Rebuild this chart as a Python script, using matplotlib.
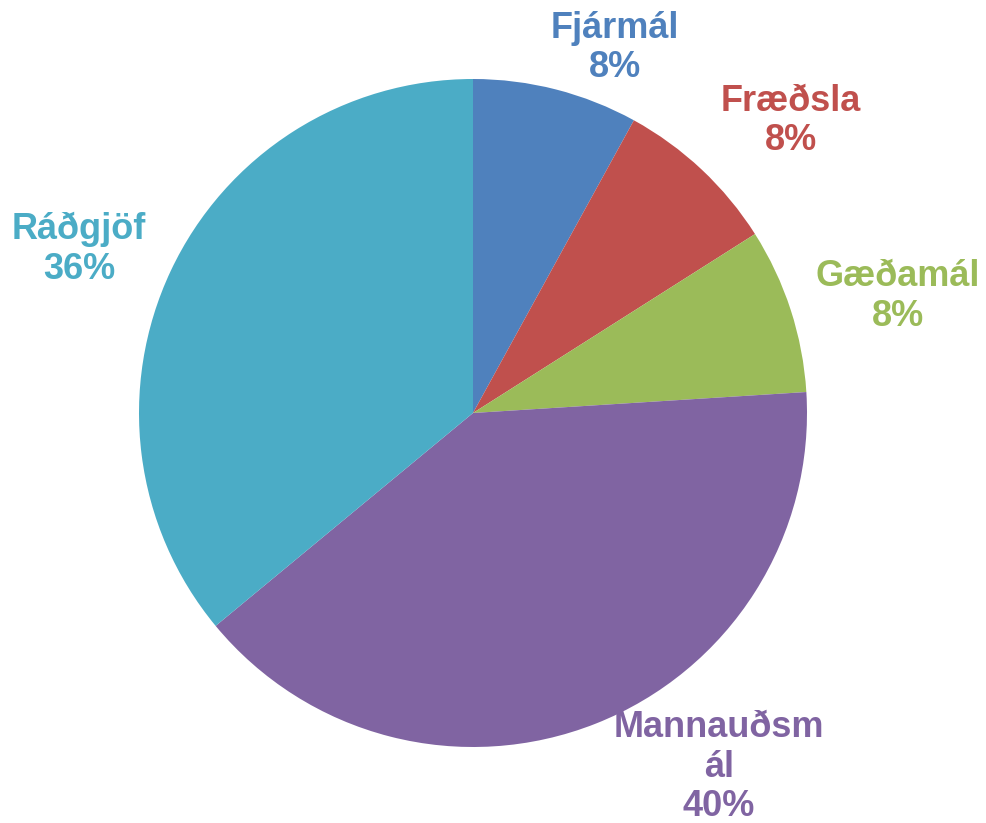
import matplotlib
matplotlib.use("Agg")
import matplotlib.pyplot as plt

categories = ["Fjármál", "Fræðsla", "Gæðamál", "Mannauðsmál", "Ráðgjöf"]
label_texts = ["Fjármál", "Fræðsla", "Gæðamál", "Mannauðsm\nál", "Ráðgjöf"]
values = [8, 8, 8, 40, 36]
colors = ["#4F81BD", "#C0504D", "#9BBB59", "#8064A2", "#4BACC6"]
# label positions in units of pie radius (relative to centre)
label_pos = [(0.426, 1.093), (0.952, 0.874), (1.273, 0.348), (0.736, -1.060), (-1.180, 0.490)]

W, H = 986, 823
fig = plt.figure(figsize=(W / 100, H / 100), dpi=100)
cx, cy, r = 473, 413, 334
ax = fig.add_axes([(cx - r) / W, (H - cy - r) / H, 2 * r / W, 2 * r / H])
ax.pie(values, colors=colors, startangle=90, counterclock=False, radius=1,
       wedgeprops=dict(linewidth=0))
ax.set_xlim(-1, 1)
ax.set_ylim(-1, 1)
ax.set_aspect("equal")
ax.axis("off")

total = sum(values)
for txt, v, c, (x, y) in zip(label_texts, values, colors, label_pos):
    ax.text(x, y, f"{txt}\n{round(100 * v / total)}%", ha="center", va="center",
            color=c, fontsize=26, fontweight="bold", family="Liberation Sans",
            linespacing=1.17, clip_on=False)

fig.savefig("out.png", dpi=100)
